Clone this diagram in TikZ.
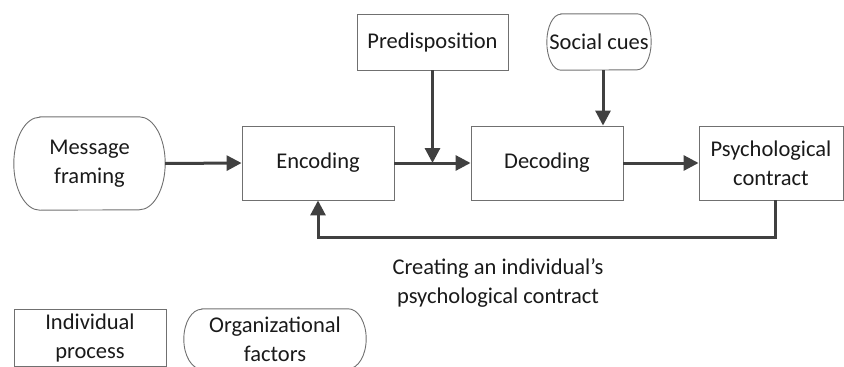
\documentclass[tikz,border=0pt]{standalone}
\usepackage{fontspec}
\setmainfont{Carlito}
\usetikzlibrary{arrows.meta,calc}
\definecolor{edge}{HTML}{707070}
\definecolor{arr}{HTML}{404040}
\definecolor{txt}{HTML}{1A1A1A}
\tikzset{
  x=1pt,y=1pt,
  base/.style={inner sep=0pt, align=center, text=txt, font=\fontsize{22.5}{29}\selectfont},
  box/.style={base, draw=edge, line width=0.9pt},
  pillnode/.style={base},
  flow/.style={draw=arr, line width=3pt, -{Triangle[length=15pt,width=15pt]}},
  pillline/.style={draw=edge, line width=0.9pt}
}
\newcommand{\pillshape}[3]{% name, arc width, half height
  \draw[pillline] ([xshift=#2]#1.north west) -- ([xshift=-#2]#1.north east)
    arc[start angle=90,end angle=-90,x radius=#2,y radius=#3]
    -- ([xshift=#2]#1.south west)
    arc[start angle=270,end angle=90,x radius=#2,y radius=#3] -- cycle;}
\begin{document}
\begin{tikzpicture}
\useasboundingbox (0,0) rectangle (844,-367);
% nodes
\node[pillnode, minimum width=151, minimum height=93] (msg) at (89.5,-163.5) {Message\\framing};
\node[box, minimum width=152, minimum height=74] (enc) at (318,-163) {Encoding};
\node[box, minimum width=151, minimum height=56] (pre) at (432.5,-42) {Predisposition};
\node[pillnode, minimum width=104, minimum height=56] (soc) at (599,-42) {Social cues};
\node[box, minimum width=152, minimum height=74] (dec) at (547,-163) {Decoding};
\node[box, minimum width=144, minimum height=74] (psy) at (771,-163) {Psychological\\contract};
\node[box, minimum width=152, minimum height=57] (ind) at (90,-337.5) {Individual\\process};
\node[pillnode, minimum width=182, minimum height=60] (org) at (275,-339) {Organizational\\factors};
\node[base] (cap) at (498,-283) {Creating an individual’s\\psychological contract};
% pill outlines
\pillshape{msg}{26}{46.5}
\pillshape{soc}{14}{28}
\pillshape{org}{18}{30}
% connectors
\draw[flow] (msg.east) -- (enc.west);
\draw[flow] (enc.east) -- (dec.west);
\draw[flow] (pre.south) -- (pre.south |- enc.east);
\draw[flow] ([xshift=4]soc.south) -- ([xshift=4]soc.south |- dec.north);
\draw[flow] (dec.east) -- (psy.west);
\coordinate (fb) at ([xshift=4]psy.south);
\draw[flow] (fb) -- ++(0,-37) -| (enc.south);
\end{tikzpicture}
\end{document}
